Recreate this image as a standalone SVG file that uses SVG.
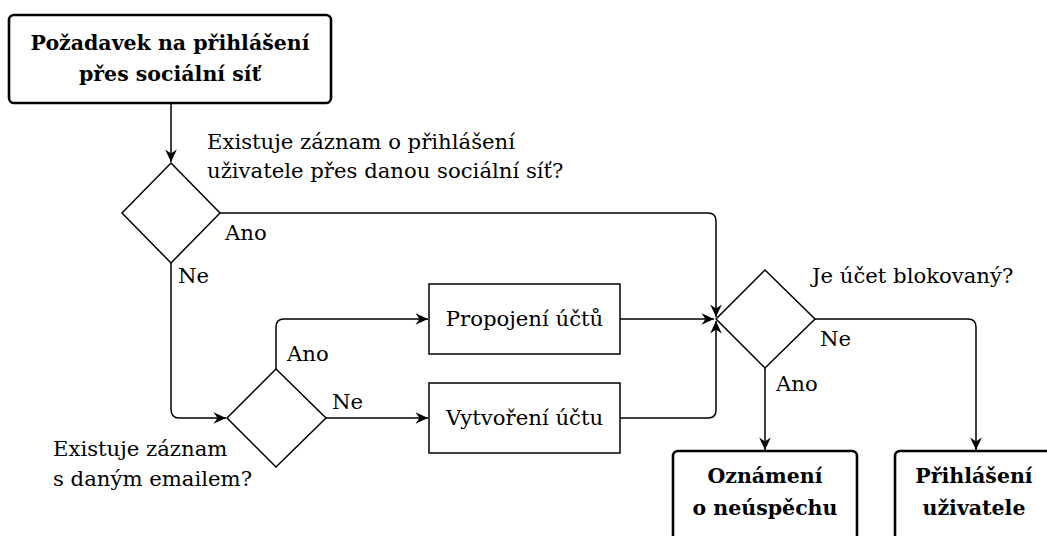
<svg xmlns="http://www.w3.org/2000/svg" width="1047" height="536" viewBox="0 0 1047 536">
  <style>
    .t { font-family: "DejaVu Serif", serif; font-size: 21.2px; fill: #000; }
    .b { font-weight: bold; font-size: 20.5px; }
    .c { text-anchor: middle; }
    .term { fill: #fff; stroke: #000; stroke-width: 2.6; }
    .proc { fill: #fff; stroke: #000; stroke-width: 1.5; }
    .dec { fill: #fff; stroke: #000; stroke-width: 1.5; }
    .edge { fill: none; stroke: #000; stroke-width: 1.5; marker-end: url(#arrow); }
  </style>
  <defs>
    <!-- stealth-style arrowhead, tip at the path end -->
    <marker id="arrow" markerUnits="userSpaceOnUse" markerWidth="16" markerHeight="14" viewBox="-14 -7 16 14" refX="0" refY="0" orient="auto">
      <path d="M0,0 L-12.5,-5.8 L-8.5,0 L-12.5,5.8 Z" fill="#000"/>
    </marker>
  </defs>

  <rect width="1047" height="536" fill="#fff"/>

  <!-- connectors -->
  <g id="connectors">
    <path class="edge" d="M171,103 V162"/>
    <path class="edge" d="M220,213 H708 Q716,213 716,221 V317"/>
    <path class="edge" d="M171,263 V409 Q171,418 179,418 H226"/>
    <path class="edge" d="M276,369 V327 Q276,319 284,319 H428"/>
    <path class="edge" d="M326,418 H428"/>
    <path class="edge" d="M620,319 H714"/>
    <path class="edge" d="M620,418 H708 Q716,418 716,410 V321"/>
    <path class="edge" d="M765,368 V450"/>
    <path class="edge" d="M815,319 H968 Q976,319 976,327 V450"/>
  </g>

  <!-- edge labels -->
  <g id="labels">
    <text class="t" x="207" y="148.5">Existuje záznam o přihlášení</text>
    <text class="t" x="207" y="178">uživatele přes danou sociální síť?</text>
    <text class="t" x="225" y="240">Ano</text>
    <text class="t" x="178" y="283">Ne</text>
    <text class="t" x="287" y="361">Ano</text>
    <text class="t" x="332" y="409">Ne</text>
    <text class="t" x="53" y="456">Existuje záznam</text>
    <text class="t" x="53" y="486">s daným emailem?</text>
    <text class="t" x="812" y="283">Je účet blokovaný?</text>
    <text class="t" x="820" y="346">Ne</text>
    <text class="t" x="776" y="391">Ano</text>
  </g>

  <g id="start">
    <rect class="term" x="9" y="15" width="322" height="88" rx="5"/>
    <text class="t b c" x="170" y="50">Požadavek na přihlášení</text>
    <text class="t b c" x="170" y="81">přes sociální síť</text>
  </g>

  <g id="decision-social">
    <polygon class="dec" points="171,163 220,213 171,263 122,213"/>
  </g>

  <g id="decision-email">
    <polygon class="dec" points="276,369 326,418 276,467 227,418"/>
  </g>

  <g id="link-accounts">
    <rect class="proc" x="429" y="284" width="191" height="70"/>
    <text class="t c" x="524.5" y="326">Propojení účtů</text>
  </g>

  <g id="create-account">
    <rect class="proc" x="429" y="383" width="191" height="70"/>
    <text class="t c" x="524.5" y="425">Vytvoření účtu</text>
  </g>

  <g id="decision-blocked">
    <polygon class="dec" points="765,270 815,319 765,368 716,319"/>
  </g>

  <g id="failure">
    <rect class="term" x="673" y="451" width="184" height="100" rx="5"/>
    <text class="t b c" x="765" y="483">Oznámení</text>
    <text class="t b c" x="765" y="515">o neúspěchu</text>
  </g>

  <g id="login">
    <rect class="term" x="895" y="451" width="162" height="100" rx="5"/>
    <text class="t b c" x="974" y="483">Přihlášení</text>
    <text class="t b c" x="974" y="515">uživatele</text>
  </g>
</svg>
